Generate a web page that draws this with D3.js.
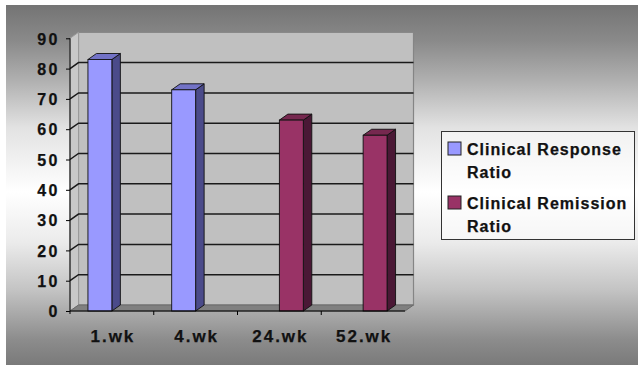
<!DOCTYPE html>
<html>
<head>
<meta charset="utf-8">
<script src="https://cdn.jsdelivr.net/npm/d3@7/dist/d3.min.js"></script>
<style>
  html, body { margin: 0; padding: 0; background: #ffffff; }
  svg { display: block; }
  text { font-family: "Liberation Sans", Arial, sans-serif; font-weight: bold; fill: #111; stroke: #111; stroke-width: 0.25px; }
</style>
</head>
<body>
<svg id="chart" width="638" height="365"></svg>
<script>
// Chart data
const categories = ["1.wk", "4.wk", "24.wk", "52.wk"];
const seriesNames = ["Clinical Response Ratio", "Clinical Remission Ratio"];
const responseValues = [83, 73, null, null];
const remissionValues = [null, null, 63, 58];
const yTicks = [0, 10, 20, 30, 40, 50, 60, 70, 80, 90];

const seriesColors = [
  { front: "#9999ff", side: "#4b4b8a", top: "#7272c6" },
  { front: "#993366", side: "#4a1835", top: "#76284f" }
];

const svg = d3.select("#chart");
const W = 638, H = 365;

// Background panel with vertical gray gradient
const defs = svg.append("defs");
const bg = defs.append("linearGradient").attr("id", "bgGrad")
  .attr("x1", 0).attr("y1", 0).attr("x2", 0).attr("y2", 1);
[[0, "#747474"], [0.1, "#8a8a8a"], [0.21, "#b0b0b0"], [0.34, "#e2e2e2"],
 [0.52, "#ffffff"], [0.66, "#ebebeb"], [0.79, "#c4c4c4"], [0.93, "#8c8c8c"], [1, "#7a7a7a"]]
  .forEach(([o, c]) => bg.append("stop").attr("offset", o).attr("stop-color", c));

svg.append("rect").attr("x", 6).attr("y", 5).attr("width", W - 6).attr("height", H - 5)
  .attr("fill", "url(#bgGrad)");

// Plot geometry (front plane + oblique depth)
const plotLeft = 70, plotRight = 405;
const depthX = 8.5, depthY = -6;

const y = d3.scaleLinear().domain([0, 90]).range([311, 38.3]);
const x = d3.scaleBand().domain(categories).range([plotLeft, plotRight]).paddingInner(0).paddingOuter(0);
// 150% gap width: each category holds 2 bar slots plus 1.5 slots of gap
const slot = x.bandwidth() / 3.5;

const g = svg.append("g");

// Back wall
g.append("rect")
  .attr("x", plotLeft + depthX).attr("y", y(90) + depthY)
  .attr("width", plotRight - plotLeft).attr("height", y(0) - y(90))
  .attr("fill", "#c0c0c0").attr("stroke", "#858585").attr("stroke-width", 1.2);

// Side wall
g.append("path")
  .attr("d", `M${plotLeft},${y(90)} L${plotLeft + depthX},${y(90) + depthY} L${plotLeft + depthX},${y(0) + depthY} L${plotLeft},${y(0)} Z`)
  .attr("fill", "#c8c8c8").attr("stroke", "#9a9a9a").attr("stroke-width", 1);

// Floor
g.append("path")
  .attr("d", `M${plotLeft},${y(0)} L${plotLeft + depthX},${y(0) + depthY} L${plotRight + depthX},${y(0) + depthY} L${plotRight},${y(0)} Z`)
  .attr("fill", "#808080").attr("stroke", "#6a6a6a").attr("stroke-width", 1);

// Gridlines on side and back walls
g.selectAll(".grid").data(yTicks.filter(v => v > 0 && v < 90)).join("path")
  .attr("class", "grid")
  .attr("d", v => `M${plotLeft},${y(v)} L${plotLeft + depthX},${y(v) + depthY} L${plotRight + depthX},${y(v) + depthY}`)
  .attr("fill", "none").attr("stroke", "#1a1a1a").attr("stroke-width", 1.5);

// 3D columns
const barData = [];
[responseValues, remissionValues].forEach((vals, si) => {
  vals.forEach((v, ci) => {
    if (v != null) barData.push({ cat: categories[ci], value: v, series: si });
  });
});

const bars = g.selectAll(".bar").data(barData).join("g").attr("class", "bar");
bars.each(function (d) {
  const b = d3.select(this);
  const x0 = x(d.cat) + slot * 0.75 + slot * d.series;
  const x1 = x0 + slot;
  const yt = y(d.value), yb = y(0);
  const col = seriesColors[d.series];
  // side face
  b.append("path")
    .attr("d", `M${x1},${yt} L${x1 + depthX},${yt + depthY} L${x1 + depthX},${yb + depthY} L${x1},${yb} Z`)
    .attr("fill", col.side).attr("stroke", "#111").attr("stroke-width", 0.9);
  // top face
  b.append("path")
    .attr("d", `M${x0},${yt} L${x0 + depthX},${yt + depthY} L${x1 + depthX},${yt + depthY} L${x1},${yt} Z`)
    .attr("fill", col.top).attr("stroke", "#111").attr("stroke-width", 0.9);
  // front face
  b.append("rect")
    .attr("x", x0).attr("y", yt).attr("width", slot).attr("height", yb - yt)
    .attr("fill", col.front).attr("stroke", "#111").attr("stroke-width", 0.9);
});

// Value axis
const yAxis = d3.axisLeft(y).tickValues(yTicks).tickSize(4).tickPadding(6);
const yg = svg.append("g").attr("transform", `translate(${plotLeft},0)`).call(yAxis);
yg.select(".domain").attr("stroke", "#000").attr("d", `M-0,${y(90)}V${y(0) + 3}`);
yg.selectAll(".tick line").attr("stroke", "#000");
yg.selectAll(".tick text")
  .style("font-size", "16px").style("letter-spacing", "2.5px")
  .attr("fill", "#111").attr("dy", "0.36em");

// Category axis
const xAxis = d3.axisBottom(x).tickSize(0).tickPadding(0);
const xg = svg.append("g").attr("transform", `translate(0,${y(0)})`).call(xAxis);
xg.select(".domain").attr("stroke", "#000").attr("d", `M${plotLeft},0H${plotRight}`);
xg.selectAll(".tick text")
  .style("font-size", "17px").style("letter-spacing", "2px")
  .attr("fill", "#111").attr("y", 31).attr("dy", 0).attr("dx", 1);
// Tick marks between categories
xg.selectAll(".sep").data(categories.slice(1)).join("line")
  .attr("class", "sep")
  .attr("x1", d => x(d)).attr("x2", d => x(d))
  .attr("y1", 0).attr("y2", 4).attr("stroke", "#000");

// Legend
const leg = svg.append("g");
leg.append("rect").attr("x", 441.5).attr("y", 131.5).attr("width", 193).attr("height", 108)
  .attr("fill", "#ffffff").attr("fill-opacity", 0.5).attr("stroke", "#333").attr("stroke-width", 1);

const legendLines = seriesNames.map(n => {
  const words = n.split(" ");
  return [words.slice(0, 2).join(" "), words.slice(2).join(" ")];
});
const legendTop = [142, 196];
legendLines.forEach((lines, i) => {
  leg.append("rect").attr("x", 448).attr("y", legendTop[i]).attr("width", 13).attr("height", 13)
    .attr("fill", seriesColors[i].front).attr("stroke", "#222").attr("stroke-width", 1);
  lines.forEach((t, j) => {
    leg.append("text").attr("x", 467).attr("y", legendTop[i] + 12.5 + j * 23.5)
      .style("font-size", "16px").style("letter-spacing", "1px").text(t);
  });
});
</script>
</body>
</html>
